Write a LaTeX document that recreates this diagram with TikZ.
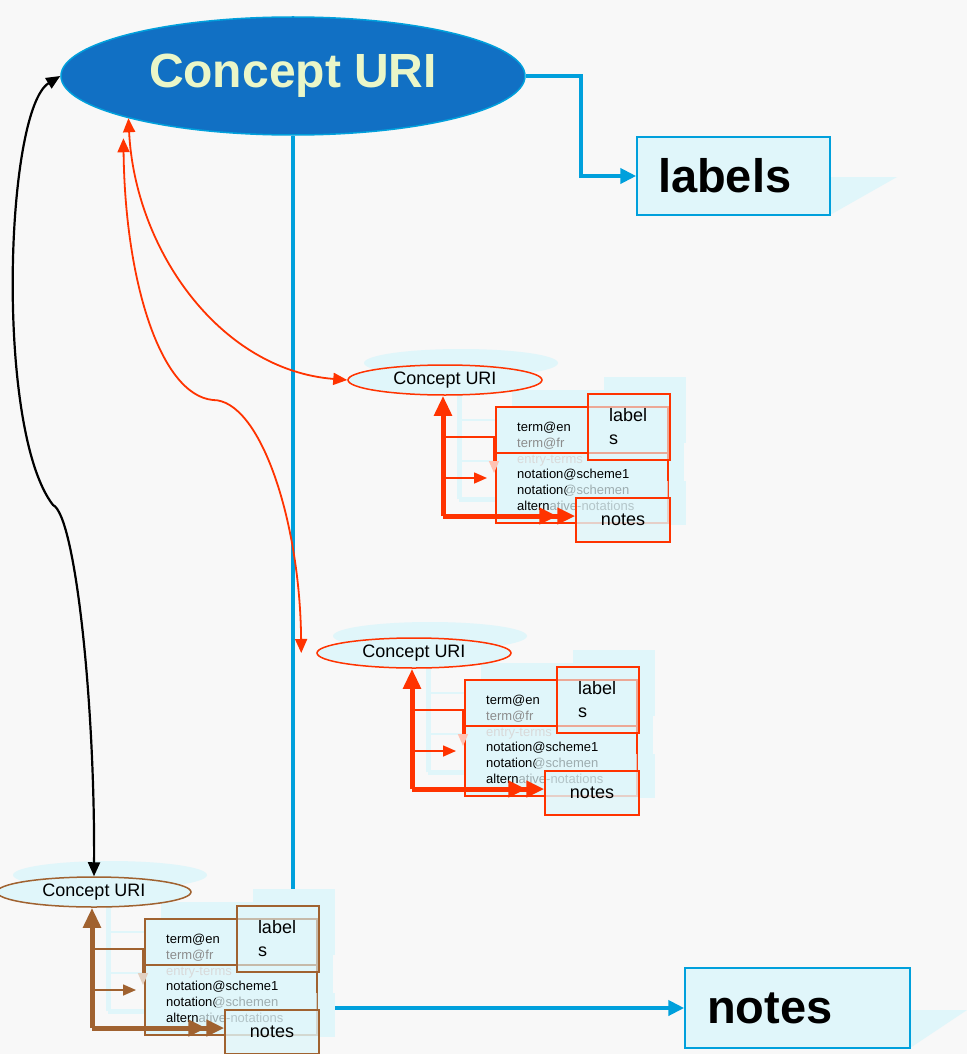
\documentclass[tikz,border=0pt]{standalone}
\usepackage{fontspec}
\setmainfont{Liberation Sans}
\usepackage{tikz}
\usetikzlibrary{shapes.geometric,arrows.meta}
\definecolor{paper}{RGB}{248,248,248}
\definecolor{pale}{RGB}{224,246,250}
\definecolor{uriblue}{RGB}{17,112,196}
\definecolor{urilabel}{RGB}{234,246,200}
\definecolor{linkcyan}{RGB}{0,160,220}
\definecolor{linkred}{RGB}{255,51,0}
\definecolor{linkbrown}{RGB}{160,98,48}
\tikzstyle{uribig} = [ ellipse, fill = uriblue, draw = linkcyan, line width = 1.5pt, %
                       minimum width = 464pt, minimum height = 118pt, text = urilabel, %
                       font = \fontsize{48}{52}\selectfont\bfseries ]
\tikzstyle{bigbox} = [ rectangle, draw = linkcyan, line width = 1.5pt, fill = pale, %
                       align = left, inner xsep = 21pt, %
                       font = \fontsize{47}{50}\selectfont\bfseries ]
\tikzstyle{bluelink} = [linkcyan, line width = 4.5pt, -{Triangle[length=16pt,width=15pt]}]
\tikzstyle{curvelink} = [line width = 1.8pt, %
                         {Triangle[length=14pt,width=12pt]}-{Triangle[length=14pt,width=12pt]}]
\tikzstyle{subellipse} = [ ellipse, fill = pale, line width = 1.5pt, inner sep = 0pt, %
                           minimum width = 194pt, minimum height = 30pt, %
                           font = \fontsize{18}{20}\selectfont ]
\tikzstyle{subbox} = [rectangle, line width = 1.5pt, fill = pale, inner sep = 0pt]
\tikzstyle{subtext} = [anchor = base west, inner sep = 0pt, font = \fontsize{13}{16}\selectfont]
\tikzstyle{thickarrow} = [line width = 5pt, -{Triangle[length=20pt,width=17pt]}]
\tikzstyle{thinarrow} = [line width = 1.6pt]
% one concept with its labels and notes: name, x, y, colour
\newcommand{\conceptgroup}[4]{%
  \begin{scope}[shift={(#2,#3)}]
    % shadow
    \begin{scope}[shift={(16,-17)}, pale]
      \fill (0,0) ellipse [x radius=97pt, y radius=14pt];
      \fill (51,27) rectangle (223,143);
      \fill (143,14) rectangle (225,80);
      \fill (131,118) rectangle (225,162);
      \draw [line width=5pt] (-2,136) -- (-2,15);
      \draw [line width=5pt] (-2,136) -- (131,136);
      \draw [line width=2pt] (-2,57) -- (49,57) -- (49,93);
      \draw [line width=2pt] (-2,98) -- (42,98);
    \end{scope}
    % boxes
    \node (#1c) [subellipse, draw=#4] at (0,0) {Concept URI};
    \node (#1box) [subbox, draw=#4, minimum width=172pt, minimum height=116pt] at (137,85) {};
    \draw [#4, line width=1.5pt] (51,73) -- (223,73);
    \node (#1t1) [subtext] at (72,51) {term@en};
    \node (#1t2) [subtext, text=black!45] at (72,67) {term@fr};
    \node (#1t3) [subtext, text=black!15] at (72,83) {entry-terms};
    \node (#1t4) [subtext] at (72,98) {notation@scheme1};
    \node (#1t5) [subtext] at (72,114) {notation@schemen};
    \node (#1t6) [subtext] at (72,130) {alternative-notations};
    \fill [pale, opacity=.7] (122,101) rectangle (223,117) (104,117) rectangle (131,134);
    \node (#1lab) [subbox, draw=#4, fill opacity=.6, text opacity=1, align=left, %
                   minimum width=82pt, minimum height=66pt, text width=40pt, %
                   font=\fontsize{18}{23}\selectfont] at (184,47) {label\\s};
    \node (#1not) [subbox, draw=#4, fill opacity=.8, text opacity=1, %
                   minimum width=94pt, minimum height=44pt, %
                   font=\fontsize{18}{20}\selectfont] at (178,140) {notes};
    % arrows
    \coordinate (#1k) at (-2,136);
    \coordinate (#1m) at (49,93);
    \coordinate (#1n) at (42,98);
    \draw [#4, thinarrow, -{Triangle[length=12pt,width=10pt,color=#4!30]}] %
      (-2,57) -- (#1m |- 0,57) -- (#1m);
    \draw [#4, thinarrow, -{Triangle[length=13pt,width=11pt]}] (#1n -| -2,0) -- (#1n);
    \draw [#4, thickarrow] (#1k) -- (#1k |- #1c.south);
    \draw [#4, line width=5pt, %
      -{Triangle[length=18pt,width=16pt] Triangle[length=18pt,width=16pt]}] %
      (#1k) -- (#1k -| #1not.west);
  \end{scope}}

\begin{document}
\begin{tikzpicture}[x=1pt, y=-1pt]
  % Background
  \fill [paper] (0,0) rectangle (967,1054);
  \useasboundingbox (0,0) rectangle (967,1054);
  % Boxes
  \fill [pale] (830,177) -- (897,177) -- (830,215) -- cycle;
  \fill [pale] (910,1010) -- (967,1010) -- (910,1048) -- cycle;
  \node (labels) [bigbox, text width=151pt, minimum height=78pt] at (733.5,176) {labels};
  \node (notes) [bigbox, inner xsep=22pt, text width=181pt, minimum height=80pt] %
    at (797.5,1008) {notes};
  \node (uri) [uribig] at (293,76) {Concept URI};
  % Links
  \draw [bluelink] (uri.east) -- ++(55,0) |- (labels.west);
  \draw [bluelink] (uri.south) -- (uri.south |- notes.west) -- (notes.west);
  % Concept groups
  \conceptgroup{a}{445}{380}{linkred}
  \conceptgroup{b}{414}{653}{linkred}
  \conceptgroup{d}{94}{892}{linkbrown}
  % Curves
  \draw [curvelink, black, line width=2.2pt] (uri.west) %
    .. controls (5,110) and (-5,430) .. (53,505) %
    .. controls (75,515) and (95,700) .. (dc.north);
  \draw [curvelink, linkred] (uri.south west) %
    .. controls (135,250) and (220,370) .. (ac.west);
  \draw [curvelink, linkred] ([xshift=-5pt,yshift=-20pt]uri.south west) %
    .. controls (125,280) and (160,395) .. (213,400) %
    .. controls (260,400) and (300,520) .. ([xshift=-15pt]bc.west);
\end{tikzpicture}
\end{document}
